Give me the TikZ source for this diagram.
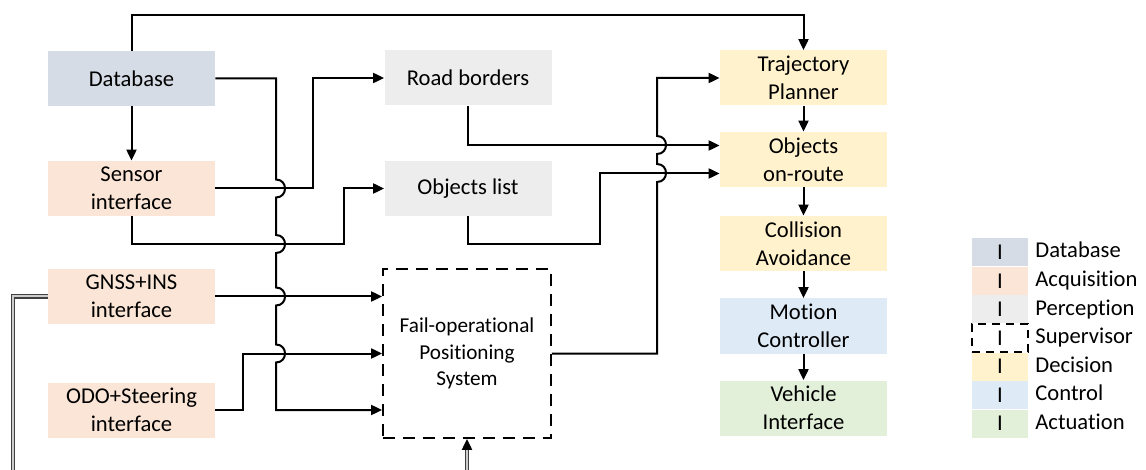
\documentclass[tikz,border=0pt]{standalone}
\usepackage{fontspec}
\setmainfont{Carlito}[Ligatures={NoCommon,NoContextual}]
\usetikzlibrary{arrows.meta}
\definecolor{dbcol}{HTML}{D6DCE5}
\definecolor{acqcol}{HTML}{FBE5D6}
\definecolor{percol}{HTML}{EDEDED}
\definecolor{deccol}{HTML}{FFF2CC}
\definecolor{ctrlcol}{HTML}{DEEBF7}
\definecolor{actcol}{HTML}{E2F0D9}
\tikzset{
  blk/.style={minimum width=83.5pt, minimum height=27.5pt, inner sep=0pt, align=center,
    font=\fontsize{11.3}{14}\selectfont},
  link/.style={line width=1pt, -{Triangle[length=5.5pt,width=5pt]}},
  dbl/.style={draw=black!75, line width=0.6pt, double=black!20, double distance=1pt},
  key/.style={minimum width=28pt, minimum height=14pt, inner sep=0pt, font=\fontsize{11.3}{14}\selectfont},
  dbkey/.style={key, fill=dbcol},
  acqkey/.style={key, fill=acqcol},
  perkey/.style={key, fill=percol},
  supkey/.style={key, draw, line width=0.8pt, dash pattern=on 4pt off 3pt},
  deckey/.style={key, fill=deccol},
  ctrlkey/.style={key, fill=ctrlcol},
  actkey/.style={key, fill=actcol},
  keytxt/.style={anchor=west, inner sep=0pt, text height=8pt, text depth=2.5pt,
    font=\fontsize{11.3}{14}\selectfont}
}
\begin{document}
\begin{tikzpicture}[x=0.5pt,y=-0.5pt]
\useasboundingbox (0,0) rectangle (1146,470);

\node (db) [blk, fill=dbcol] at (131.5,78.5) {Database};
\node (sens) [blk, fill=acqcol] at (131.5,188.5) {Sensor\\interface};
\node (gnss) [blk, fill=acqcol] at (131.5,296.5) {GNSS+INS\\interface};
\node (odo) [blk, fill=acqcol] at (131.5,410) {ODO+Steering\\interface};
\node (road) [blk, fill=percol] at (468,78) {Road borders};
\node (objl) [blk, fill=percol] at (468,188.5) {Objects list};
\node (fops) [blk, draw, line width=0.9pt, dash pattern=on 6pt off 4pt,
  minimum width=84pt, minimum height=84.5pt, font=\fontsize{10.6}{13.3}\selectfont]
  at (467,353.5) {Fail-operational\\Positioning\\System};
\node (traj) [blk, fill=deccol] at (803.5,78) {Trajectory\\Planner};
\node (onr) [blk, fill=deccol] at (803.5,159.5) {Objects\\on-route};
\node (coll) [blk, fill=deccol] at (803.5,243.5) {Collision\\Avoidance};
\node (motion) [blk, fill=ctrlcol] at (803.5,326) {Motion\\Controller};
\node (veh) [blk, fill=actcol] at (803.5,408) {Vehicle\\Interface};

\draw[link] (db.north) -- (131.5,15) -| (traj.north);
\draw[link] (db.south) -- (sens.north);
\draw[link] (db.east) -- (276,78.5) -- (276,179.5)
  .. controls (288,179.5) and (288,197.5) .. (276,197.5) -- (276,235)
  .. controls (288,235) and (288,253) .. (276,253) -- (276,287.5)
  .. controls (288,287.5) and (288,305.5) .. (276,305.5) -- (276,344.5)
  .. controls (288,344.5) and (288,362.5) .. (276,362.5) |- (fops.west |- odo.east);
\draw[link] (sens.east) -- (313,188.5) |- (road.west);
\draw[link] (sens.south) |- (344,244) |- (objl.west);
\draw[link] (gnss.east) -- (gnss.east -| fops.west);
\draw[link] (odo.east) -- (243,410) |- (fops.west);
\draw[link] (fops.east) -- (657,353.5) -- (657,182)
  .. controls (669,182) and (669,164) .. (657,164) -- (657,154)
  .. controls (669,154) and (669,136) .. (657,136) |- (traj.west);
\draw[link] (road.south) |- ([yshift=7pt]onr.west);
\draw[link] (objl.south) |- (600,244) |- ([yshift=-7pt]onr.west);
\draw[link] (traj.south) -- (onr.north);
\draw[link] (onr.south) -- (coll.north);
\draw[link] (coll.south) -- (motion.north);
\draw[link] (motion.south) -- (veh.north);

\begin{scope}
\clip (0,0) rectangle (1146,470);
\draw[dbl] (gnss.west) -- (13,296.5) -- (13,490) -| ([yshift=-4pt]fops.south);
\end{scope}
\draw[link] ([yshift=-5pt]fops.south) -- (fops.south);

\foreach \sty/\lab [count=\i] in {dbkey/Database, acqkey/Acquisition, perkey/Perception,
  supkey/Supervisor, deckey/Decision, ctrlkey/Control, actkey/Actuation}
{
  \node (key\i) [\sty] at (1000,224+28.5*\i) {I};
  \node (lab\i) [keytxt] at (1035,224+28.5*\i) {\lab};
}
\end{tikzpicture}
\end{document}
